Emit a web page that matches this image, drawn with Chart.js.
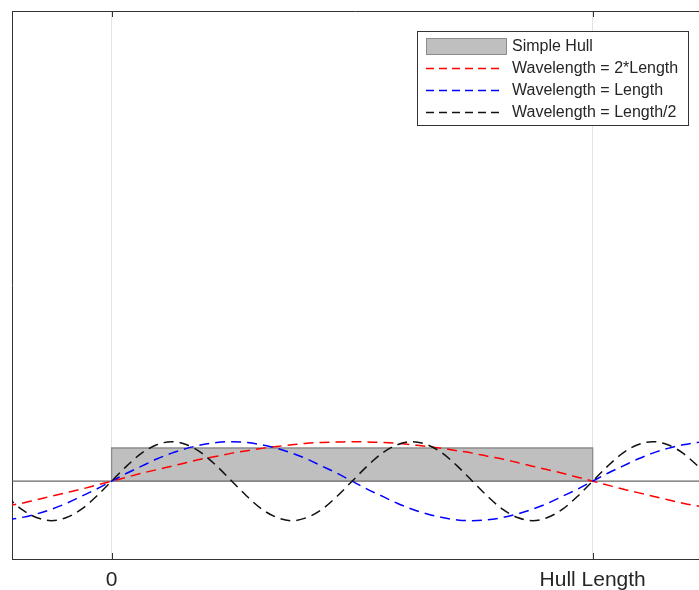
<!DOCTYPE html>
<html>
<head>
<meta charset="utf-8">
<title>Hull and waves</title>
<script src="https://cdn.jsdelivr.net/npm/chart.js@4.4.1/dist/chart.umd.min.js"></script>
<style>
  html, body { margin: 0; padding: 0; background: #fff; overflow: hidden; }
  #wrap { width: 699px; height: 590px; position: relative; }
</style>
</head>
<body>
<div id="wrap"><canvas id="c"></canvas></div>
<script>
// Positions along the hull, in hull lengths
const xPos = [-0.21875, -0.1875, -0.15625, -0.125, -0.09375, -0.0625, -0.03125,
  0, 0.03125, 0.0625, 0.09375, 0.125, 0.15625, 0.1875, 0.21875, 0.25, 0.28125,
  0.3125, 0.34375, 0.375, 0.40625, 0.4375, 0.46875, 0.5, 0.53125, 0.5625, 0.59375,
  0.625, 0.65625, 0.6875, 0.71875, 0.75, 0.78125, 0.8125, 0.84375, 0.875, 0.90625,
  0.9375, 0.96875, 1, 1.03125, 1.0625, 1.09375, 1.125, 1.15625, 1.1875, 1.21875, 1.25];

// Wave surface elevation (wave amplitude = 1)
const waveLong = [-0.63, -0.56, -0.47, -0.38, -0.29, -0.20, -0.10,
  0, 0.10, 0.20, 0.29, 0.38, 0.47, 0.56, 0.63, 0.71, 0.77, 0.83, 0.88, 0.92, 0.96, 0.98,
  0.99, 1.00, 0.99, 0.98, 0.96, 0.92, 0.88, 0.83, 0.77, 0.71, 0.63, 0.56, 0.47, 0.38,
  0.29, 0.20, 0.10, 0,
  -0.10, -0.20, -0.29, -0.38, -0.47, -0.56, -0.63, -0.71];

const waveEqual = [-0.98, -0.92, -0.83, -0.71, -0.56, -0.38, -0.20,
  0, 0.20, 0.38, 0.56, 0.71, 0.83, 0.92, 0.98, 1.00, 0.98, 0.92, 0.83, 0.71, 0.56, 0.38,
  0.20, 0, -0.20, -0.38, -0.56, -0.71, -0.83, -0.92, -0.98, -1.00, -0.98, -0.92, -0.83,
  -0.71, -0.56, -0.38, -0.20, 0,
  0.20, 0.38, 0.56, 0.71, 0.83, 0.92, 0.98, 1.00];

const waveShort = [-0.38, -0.71, -0.92, -1.00, -0.92, -0.71, -0.38,
  0, 0.38, 0.71, 0.92, 1.00, 0.92, 0.71, 0.38, 0, -0.38, -0.71, -0.92, -1.00, -0.92, -0.71,
  -0.38, 0, 0.38, 0.71, 0.92, 1.00, 0.92, 0.71, 0.38, 0, -0.38, -0.71, -0.92, -1.00,
  -0.92, -0.71, -0.38, 0,
  0.38, 0.71, 0.92, 1.00, 0.92, 0.71, 0.38, 0];

// Simple box hull outline
const hullX = [0, 0, 1, 1];
const hullY = [0, 0.84, 0.84, 0];

// Still water line
const waterX = [-0.25, 1.25];
const waterY = [0, 0];

const tickValues = [0, 1];
const tickLabels = ['0', 'Hull Length'];

const seriesNames = ['Simple Hull', 'Wavelength = 2*Length', 'Wavelength = Length', 'Wavelength = Length/2'];

const pts = (xs, ys) => xs.map((x, i) => ({ x: x, y: ys[i] }));

const DASH = [10, 6];
const LEGEND_DASH = [8, 5];
const LW = 1.5;
const TEXT = '#262626';
const FONT = '"Liberation Sans", Arial, Helvetica, sans-serif';

const waveStyle = (color) => ({
  borderColor: color, borderWidth: LW, borderDash: DASH,
  pointRadius: 0, fill: false, cubicInterpolationMode: 'monotone'
});

// Top frame line, inward tick marks and the boxed legend
const framePlugin = {
  id: 'frame',
  afterDraw(chart) {
    const { ctx, chartArea: a, scales: { x } } = chart;
    ctx.save();
    ctx.strokeStyle = '#333';
    ctx.lineWidth = 1;
    ctx.setLineDash([]);
    ctx.beginPath();
    ctx.moveTo(a.left, a.top + 0.5);
    ctx.lineTo(a.right, a.top + 0.5);
    tickValues.forEach(v => {
      const px = Math.round(x.getPixelForValue(v)) + 0.5;
      ctx.moveTo(px, a.top);
      ctx.lineTo(px, a.top + 6);
      ctx.moveTo(px, a.bottom);
      ctx.lineTo(px, a.bottom - 6);
    });
    ctx.stroke();

    // legend
    const bx = 417.5, by = 31.5, bw = 271, bh = 94;
    ctx.fillStyle = '#fff';
    ctx.fillRect(bx, by, bw, bh);
    ctx.strokeStyle = '#333';
    ctx.strokeRect(bx, by, bw, bh);

    const ds = chart.data.datasets;
    const rows = [46.5, 68.5, 90.5, 112.5];
    ctx.font = '16px ' + FONT;
    ctx.textBaseline = 'middle';
    ctx.textAlign = 'left';
    rows.forEach((ry, i) => {
      const d = ds[i];
      if (i === 0) {
        ctx.fillStyle = d.backgroundColor;
        ctx.fillRect(426.5, ry - 8, 80, 16);
        ctx.strokeStyle = d.borderColor;
        ctx.strokeRect(426.5, ry - 8, 80, 16);
      } else {
        ctx.strokeStyle = d.borderColor;
        ctx.lineWidth = LW;
        ctx.setLineDash(LEGEND_DASH);
        ctx.beginPath();
        ctx.moveTo(426, ry);
        ctx.lineTo(502, ry);
        ctx.stroke();
        ctx.setLineDash([]);
        ctx.lineWidth = 1;
      }
      ctx.fillStyle = TEXT;
      ctx.fillText(d.label, 512, ry);
    });
    ctx.restore();
  }
};

new Chart(document.getElementById('c'), {
  type: 'line',
  data: {
    datasets: [
      {
        label: seriesNames[0], data: pts(hullX, hullY),
        borderColor: '#8c8c8c', borderWidth: 1.3, backgroundColor: '#bfbfbf',
        fill: 'origin', pointRadius: 0, tension: 0, order: 5
      },
      Object.assign({ label: seriesNames[1], data: pts(xPos, waveLong), order: 3 }, waveStyle('#ff0000')),
      Object.assign({ label: seriesNames[2], data: pts(xPos, waveEqual), order: 2 }, waveStyle('#0000ff')),
      Object.assign({ label: seriesNames[3], data: pts(xPos, waveShort), order: 1 }, waveStyle('#111111')),
      {
        label: 'waterline', data: pts(waterX, waterY),
        borderColor: '#666', borderWidth: 1.2, pointRadius: 0, fill: false, order: 4
      }
    ]
  },
  options: {
    responsive: true,
    maintainAspectRatio: false,
    animation: false,
    events: [],
    layout: { padding: { left: 12, top: 11, right: 0, bottom: 0 } },
    plugins: { legend: { display: false }, tooltip: { enabled: false } },
    scales: {
      x: {
        type: 'linear', min: -0.207, max: 1.221,
        afterBuildTicks: (s) => { s.ticks = tickValues.map(v => ({ value: v })); },
        afterFit: (s) => { s.height = 31; },
        ticks: {
          autoSkip: false, maxRotation: 0, padding: 9, color: TEXT,
          font: { family: FONT, size: 21 },
          callback: (v) => tickLabels[tickValues.indexOf(v)]
        },
        grid: { color: '#e3e3e3', lineWidth: 1, drawTicks: false },
        border: { display: true, color: '#333', width: 1 }
      },
      y: {
        type: 'linear', min: -1.97, max: 11.9,
        afterFit: (s) => { s.width = 0; },
        ticks: { display: false },
        grid: { display: false, drawTicks: false },
        border: { display: true, color: '#333', width: 1 }
      }
    }
  },
  plugins: [framePlugin]
});
</script>
</body>
</html>
